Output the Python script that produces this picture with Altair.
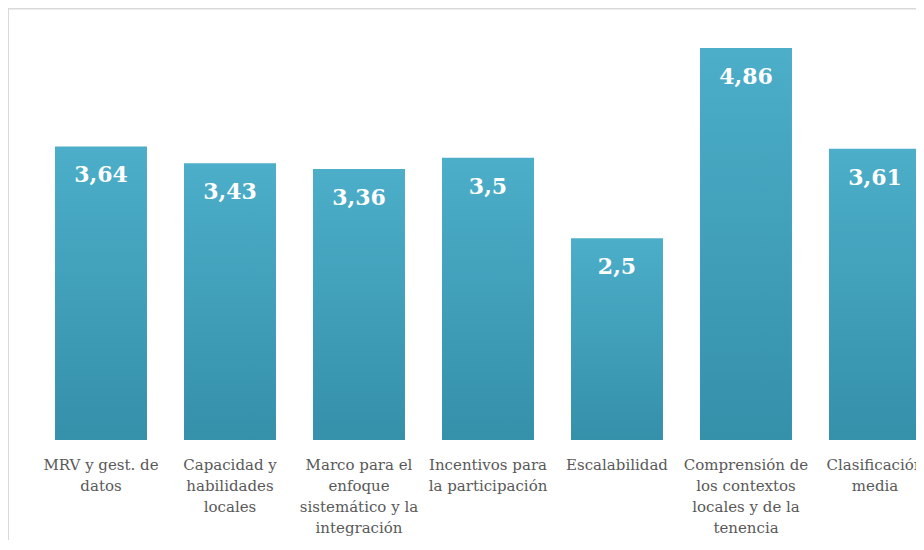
import altair as alt
import pandas as pd

categories = [
    "MRV y gest. de|datos",
    "Capacidad y|habilidades|locales",
    "Marco para el|enfoque|sistemático y la|integración",
    "Incentivos para|la participación",
    "Escalabilidad",
    "Comprensión de|los contextos|locales y de la|tenencia",
    "Clasificación|media",
]
values = [3.64, 3.43, 3.36, 3.5, 2.5, 4.86, 3.61]
value_labels = ["3,64", "3,43", "3,36", "3,5", "2,5", "4,86", "3,61"]

df = pd.DataFrame({"cat": categories, "val": values, "lab": value_labels})

W = 908
H = 432

xscale = alt.Scale(range=[28.5, 931.5], paddingInner=0.287, paddingOuter=0.1435)
yscale = alt.Scale(domain=[0, 5.356])

grad = alt.Gradient(
    gradient="linear", x1=0, y1=0, x2=0, y2=1,
    stops=[alt.GradientStop(color="#4caec9", offset=0),
           alt.GradientStop(color="#3590aa", offset=1)],
)

base = alt.Chart(df)

frame = base.mark_rect(fill="transparent", stroke="#d9d9d9", strokeWidth=2).encode(
    x=alt.value(0), x2=alt.value(2000), y=alt.value(0.5), y2=alt.value(2000)
).transform_filter("datum.cat == 'Escalabilidad'")

bars = base.mark_bar(color=grad).encode(
    x=alt.X("cat:N", sort=None, scale=xscale,
            axis=alt.Axis(title=None, labelAngle=0, labelExpr="split(datum.label, '|')",
                          labelFont="DejaVu Serif", labelFontSize=15, labelColor="#595959",
                          labelLineHeight=21.3, labelPadding=17, labelLimit=0,
                          domain=False, ticks=False, labelBaseline="top")),
    y=alt.Y("val:Q", scale=yscale, axis=None),
)

texts = base.mark_text(color="white", font="DejaVu Serif", fontWeight="bold",
                       fontSize=22, baseline="middle", dy=29).encode(
    x=alt.X("cat:N", sort=None, scale=xscale),
    y=alt.Y("val:Q", scale=yscale),
    text="lab:N",
)

chart = alt.layer(frame, bars, texts).properties(
    width=W, height=H,
    autosize=alt.AutoSizeParams(type="none"),
    padding={"left": 0, "top": 0, "right": 0, "bottom": 100},
).configure_view(stroke=None)

chart.save("out.html", embed_options={"renderer": "svg", "actions": False})
